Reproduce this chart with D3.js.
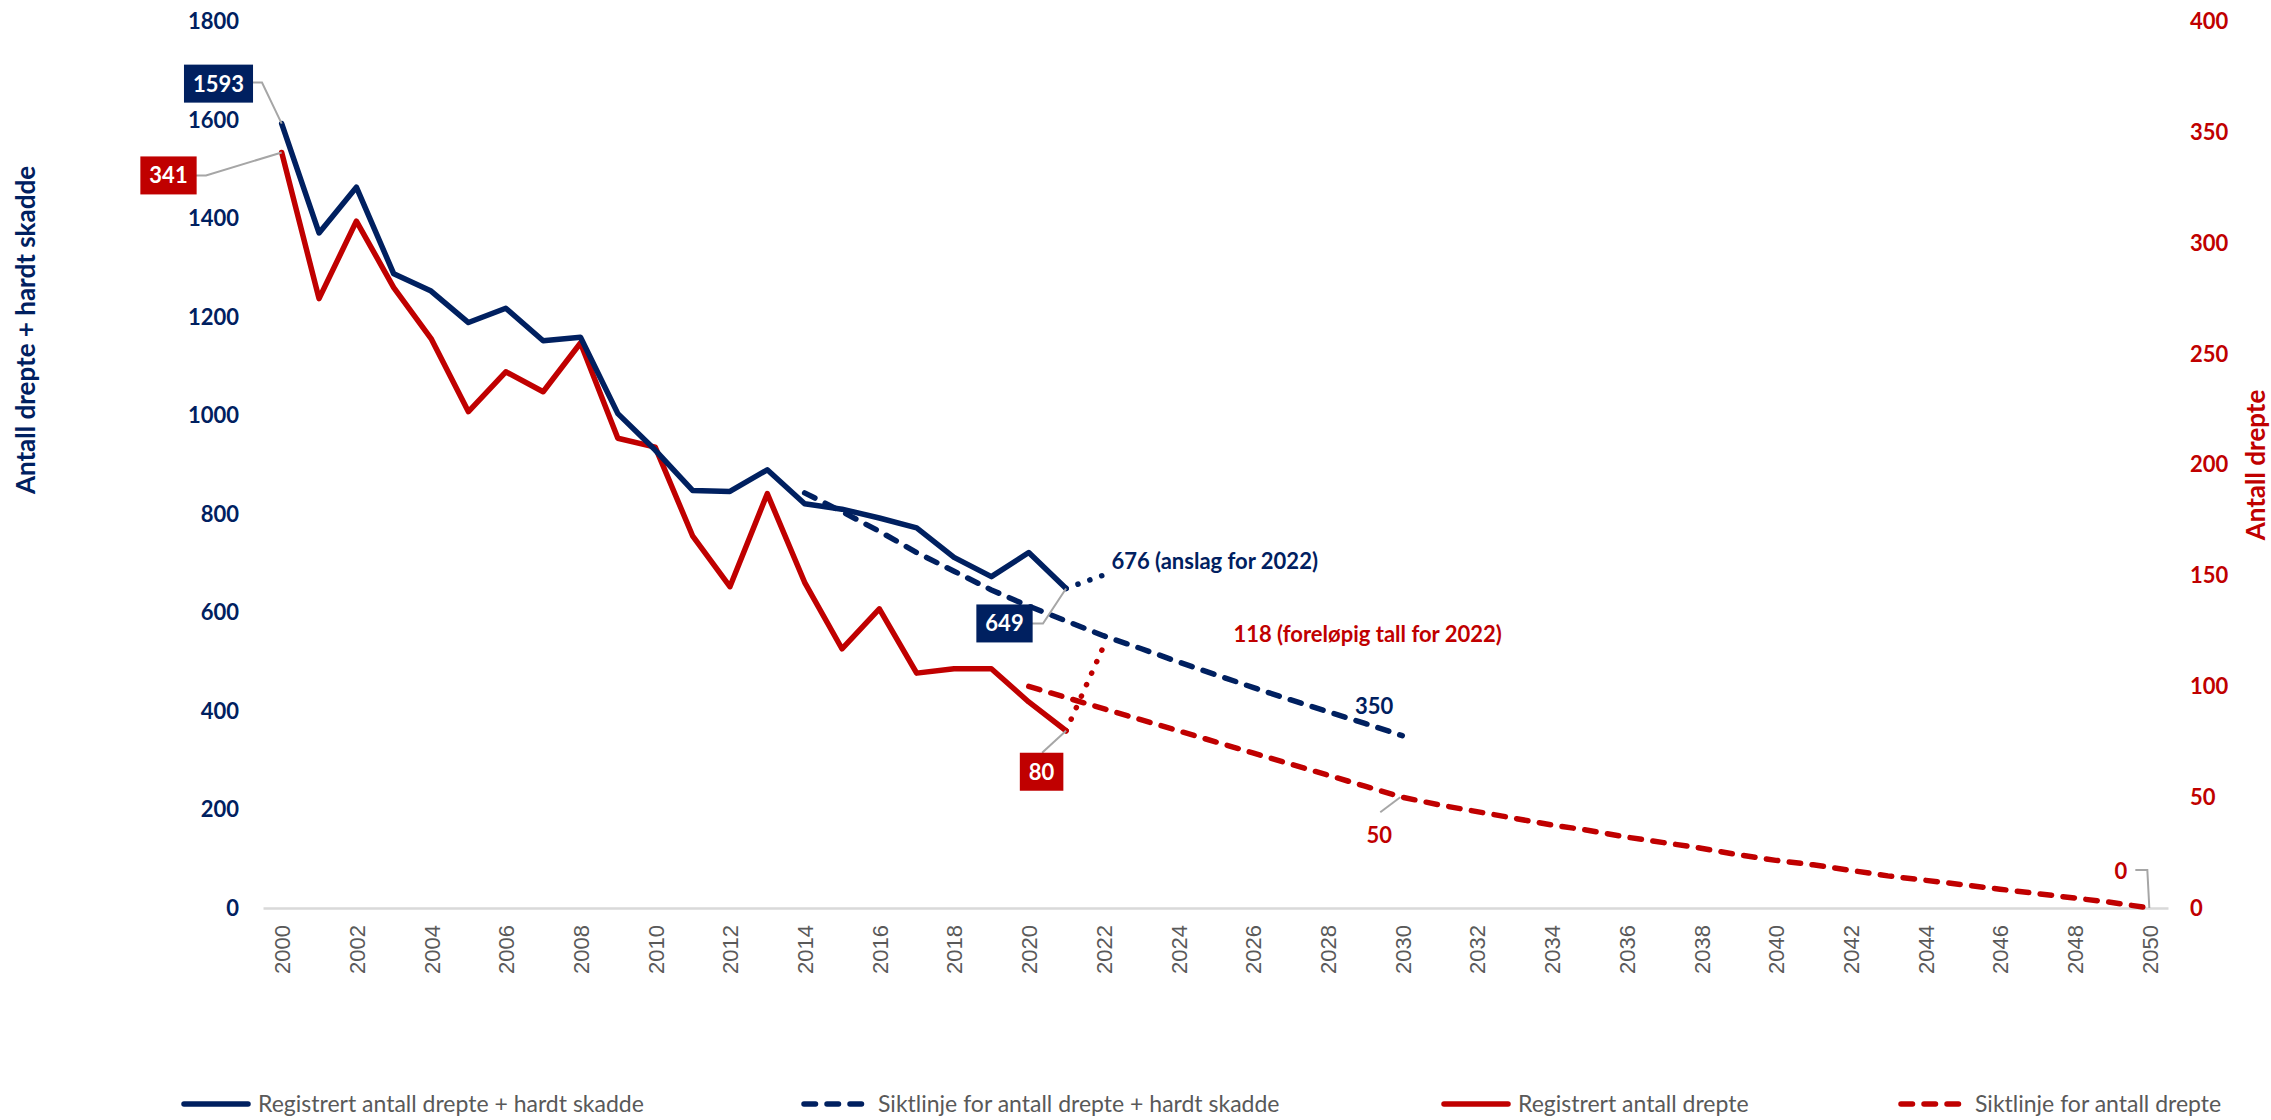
<!DOCTYPE html>
<html>
<head>
<meta charset="utf-8">
<script src="https://cdn.jsdelivr.net/npm/d3@7"></script>
<style>
  body { margin: 0; background: #fff; }
  svg { display: block; font-family: Lato, "Open Sans", sans-serif; }
</style>
</head>
<body>
<svg id="chart" width="2271" height="1120"></svg>
<script>
// categories + ticks
const years = d3.range(2000, 2051);
const tickYears = years.filter((y) => y % 2 === 0);
const leftTicks = [0, 200, 400, 600, 800, 1000, 1200, 1400, 1600, 1800];
const rightTicks = [0, 50, 100, 150, 200, 250, 300, 350, 400];

// killed + seriously injured (left axis)
const ksiYears = d3.range(2000, 2022);
const ksiValues = [1593, 1371, 1464, 1288, 1253, 1189, 1218, 1152, 1159, 1004, 930,
  848, 846, 890, 821, 810, 792, 772, 712, 673, 722, 649];
const ksiEstimateYears = [2021, 2022];
const ksiEstimateValues = [649, 676];
const ksiTargetYears = d3.range(2014, 2031);
const ksiTargetValues = [843, 805, 765, 722, 684, 646, 613, 583, 553, 527, 500,
  474, 448, 423, 399, 375, 350];

// killed (right axis)
const killedYears = d3.range(2000, 2022);
const killedValues = [341, 275, 310, 280, 257, 224, 242, 233, 255, 212, 208,
  168, 145, 187, 147, 117, 135, 106, 108, 108, 93, 80];
const killedPrelimYears = [2021, 2022];
const killedPrelimValues = [80, 118];
const killedTargetYears = d3.range(2020, 2051);
const killedTargetValues = [100, 95, 90, 85, 80, 75, 70, 65, 60, 55, 50,
  46.5, 43.5, 40.5, 37.5, 35, 32, 29.5, 27, 24, 21.5,
  19.5, 17, 14.5, 12.5, 10.5, 8.5, 6.5, 4.5, 2.5, 0];

const legendLabels = [
  "Registrert antall drepte + hardt skadde",
  "Siktlinje for antall drepte + hardt skadde",
  "Registrert antall drepte",
  "Siktlinje for antall drepte",
];

//colours
const navy = "#002060";
const red = "#c00000";
const grey = "#595959";
const leader = "#a6a6a6";

//dash styles
const dashed = "11.5,11.5";
const dotted = "0.1,12.5";
const lw = 5.5;

const svg = d3.select("#chart");

//scales
const x = d3.scalePoint().domain(years).range([263, 2168]).padding(0.5);
const yL = d3.scaleLinear().domain([0, 1800]).range([908, 21.7]);
const yR = d3.scaleLinear().domain([0, 400]).range([908, 21.7]);

//axes
const gx = svg.append("g")
  .attr("transform", "translate(0,908)")
  .call(d3.axisBottom(x).tickValues(tickYears).tickSize(0).tickSizeOuter(0));
gx.select(".domain").attr("stroke", "#d9d9d9").attr("stroke-width", 2.5);
gx.selectAll("text")
  .attr("transform", "rotate(-90)")
  .attr("x", -17)
  .attr("y", 0)
  .attr("dy", "0.36em")
  .attr("text-anchor", "end")
  .style("font-family", "'Liberation Sans', Arial, sans-serif")
  .style("font-size", "22px")
  .attr("fill", grey);

const gl = svg.append("g")
  .attr("transform", "translate(263,0)")
  .call(d3.axisLeft(yL).tickValues(leftTicks).tickFormat(d3.format("d"))
    .tickSize(0).tickPadding(24));
gl.select(".domain").remove();
gl.selectAll("text")
  .style("font-family", "Lato, sans-serif")
  .style("font-size", "22px")
  .style("font-weight", "bold")
  .attr("fill", navy);

const gr = svg.append("g")
  .attr("transform", "translate(2168,0)")
  .call(d3.axisRight(yR).tickValues(rightTicks).tickFormat(d3.format("d"))
    .tickSize(0).tickPadding(22));
gr.select(".domain").remove();
gr.selectAll("text")
  .style("font-family", "Lato, sans-serif")
  .style("font-size", "22px")
  .style("font-weight", "bold")
  .attr("fill", red);

//axis titles
svg.append("text")
  .attr("transform", "translate(35,330) rotate(-90)")
  .attr("text-anchor", "middle")
  .style("font-size", "26px")
  .style("font-weight", "bold")
  .attr("fill", navy)
  .text("Antall drepte + hardt skadde");

svg.append("text")
  .attr("transform", "translate(2265,465) rotate(-90)")
  .attr("text-anchor", "middle")
  .style("font-size", "26px")
  .style("font-weight", "bold")
  .attr("fill", red)
  .text("Antall drepte");

//lines
const drawLine = (xs, vs, scale, color, dash) => {
  const line = d3.line()
    .x((d, i) => x(xs[i]))
    .y((d) => scale(d));
  svg.append("path")
    .datum(vs)
    .attr("d", line)
    .attr("fill", "none")
    .attr("stroke", color)
    .attr("stroke-width", lw)
    .attr("stroke-linejoin", "round")
    .attr("stroke-linecap", "round")
    .attr("stroke-dasharray", dash);
};

drawLine(killedTargetYears, killedTargetValues, yR, red, dashed);
drawLine(ksiTargetYears, ksiTargetValues, yL, navy, dashed);
drawLine(killedPrelimYears, killedPrelimValues, yR, red, dotted);
drawLine(ksiEstimateYears, ksiEstimateValues, yL, navy, dotted);
drawLine(killedYears, killedValues, yR, red, null);
drawLine(ksiYears, ksiValues, yL, navy, null);

//data labels
const leaderLine = (pts) => {
  svg.append("path")
    .attr("d", d3.line()(pts))
    .attr("fill", "none")
    .attr("stroke", leader)
    .attr("stroke-width", 2);
};

const boxLabel = (cx, cy, value, color) => {
  const g = svg.append("g");
  const rect = g.append("rect").attr("fill", color);
  const t = g.append("text")
    .attr("x", cx)
    .attr("y", cy)
    .attr("dy", "0.36em")
    .attr("text-anchor", "middle")
    .style("font-size", "22px")
    .style("font-weight", "bold")
    .attr("fill", "#fff")
    .text(value);
  const w = t.node().getComputedTextLength() + 18;
  rect.attr("x", cx - w / 2).attr("y", cy - 19).attr("width", w).attr("height", 38);
  return w;
};

const plainLabel = (px, py, txt, color, anchor) => {
  svg.append("text")
    .attr("x", px)
    .attr("y", py)
    .attr("dy", "0.36em")
    .attr("text-anchor", anchor)
    .style("font-size", "22px")
    .style("font-weight", "bold")
    .attr("fill", color)
    .text(txt);
};

// 1593 (2000)
let px = x(2000), py = yL(ksiValues[0]);
leaderLine([[251, py - 41], [262, py - 41], [px, py]]);
boxLabel(218.5, py - 40, ksiValues[0], navy);

// 341 (2000)
py = yR(killedValues[0]);
leaderLine([[195, py + 23], [206, py + 23], [px, py]]);
boxLabel(168.5, py + 23, killedValues[0], red);

// 649 (2021)
px = x(2021); py = yL(ksiValues[21]);
leaderLine([[1031, py + 35], [1043, py + 35], [px, py]]);
boxLabel(1004.5, py + 35, ksiValues[21], navy);

// 80 (2021)
py = yR(killedValues[21]);
leaderLine([[px - 24, py + 22], [px, py]]);
boxLabel(px - 24.5, py + 41, killedValues[21], red);

// 676 (2022 estimate)
px = x(2022); py = yL(ksiEstimateValues[1]);
plainLabel(px + 8, py - 14, ksiEstimateValues[1] + " (anslag for 2022)", navy, "start");

// 118 (2022 preliminary)
py = yR(killedPrelimValues[1]);
plainLabel(px + 130, py - 12, killedPrelimValues[1] + " (foreløpig tall for 2022)", red, "start");

// 350 (2030)
px = x(2030); py = yL(ksiTargetValues[16]);
plainLabel(px - 9, py - 30, ksiTargetValues[16], navy, "end");

// 50 (2030)
py = yR(killedTargetValues[10]);
leaderLine([[px - 22, py + 15], [px - 2, py]]);
plainLabel(px - 23, py + 38, killedTargetValues[10], red, "middle");

// 0 (2050)
px = x(2050); py = yR(killedTargetValues[30]);
leaderLine([[px - 14, py - 38], [px - 2, py - 38], [px, py]]);
plainLabel(px - 22, py - 37, killedTargetValues[30], red, "end");

//legend
const legendX = [181, 801, 1441, 1898];
const legendColors = [navy, navy, red, red];
const legendDash = [null, dashed, null, dashed];
const legendY = 1104;

for (let i = 0; i < legendLabels.length; i++) {
  svg.append("line")
    .attr("x1", legendX[i] + 3)
    .attr("x2", legendX[i] + 67)
    .attr("y1", legendY)
    .attr("y2", legendY)
    .attr("stroke", legendColors[i])
    .attr("stroke-width", lw)
    .attr("stroke-linecap", "round")
    .attr("stroke-dasharray", legendDash[i]);

  svg.append("text")
    .attr("x", legendX[i] + 77)
    .attr("y", legendY)
    .attr("dy", "0.34em")
    .style("font-size", "23px")
    .attr("fill", grey)
    .text(legendLabels[i]);
}
</script>
</body>
</html>
